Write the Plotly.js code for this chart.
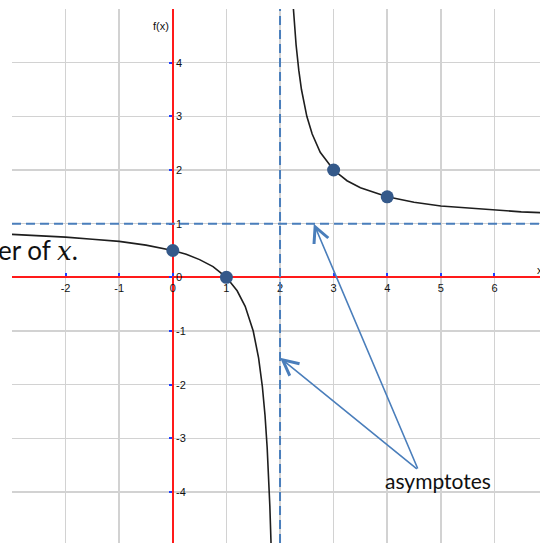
<!DOCTYPE html>
<html>
<head>
<meta charset="utf-8">
<script src="https://cdn.plot.ly/plotly-3.0.1.min.js"></script>
<style>
  html, body { margin: 0; padding: 0; background: #ffffff; }
  #chart { width: 540px; height: 543px; }
</style>
</head>
<body>
<div id="chart"></div>
<script>
// f(x) = (x - 1) / (x - 2): sampled points of the two branches
const leftBranchX = [-3, -2.5, -2, -1.5, -1, -0.5, 0, 0.25, 0.5, 0.75, 1, 1.2, 1.35, 1.5, 1.6, 1.67, 1.72, 1.76, 1.79, 1.81, 1.83, 1.84];
const leftBranchY = [0.8, 0.78, 0.75, 0.71, 0.67, 0.6, 0.5, 0.43, 0.33, 0.2, 0, -0.25, -0.54, -1, -1.5, -2.03, -2.57, -3.17, -3.76, -4.26, -4.88, -5.25];
const rightBranchX = [2.16, 2.2, 2.25, 2.3, 2.35, 2.4, 2.5, 2.6, 2.75, 3, 3.25, 3.5, 4, 4.5, 5, 5.5, 6, 6.5, 7];
const rightBranchY = [7.25, 6, 5, 4.33, 3.86, 3.5, 3, 2.67, 2.33, 2, 1.8, 1.67, 1.5, 1.4, 1.33, 1.29, 1.25, 1.22, 1.2];

// highlighted points on the graph
const pointX = [0, 1, 3, 4];
const pointY = [0.5, 0, 2, 1.5];

// asymptotes
const verticalAsymptote = 2;
const horizontalAsymptote = 1;

// arrow tips (on the asymptotes) and the common tail near the label
const arrowTipX = [2.63, 2.0];
const arrowTipY = [1.0, -1.5];
const arrowTail = [4.58, -3.59];
const arrowLabel = 'asymptotes';
const arrowLabelPos = [4.94, -3.79];

// axes
const xRange = [-3, 6.85];
const yRange = [-4.95, 5];
const xTickVals = [-3, -2, -1, 0, 1, 2, 3, 4, 5, 6];
const xTickText = ['', '-2', '-1', '0', '1', '2', '3', '4', '5', '6'];
const yTickVals = [-4, -3, -2, -1, 0, 1, 2, 3, 4, 5];
const yTickText = ['-4', '-3', '-2', '-1', '0', '1', '2', '3', '4', ''];

const curveColor = '#1e1e1e';
const pointColor = '#34598a';
const blue = '#4a7ebb';
const tickFont = { family: 'Liberation Sans, Arial, sans-serif', size: 11, color: '#111111' };

const traces = [
  {
    x: leftBranchX, y: leftBranchY, type: 'scatter', mode: 'lines',
    line: { color: curveColor, width: 1.6 }, hoverinfo: 'skip'
  },
  {
    x: rightBranchX, y: rightBranchY, type: 'scatter', mode: 'lines',
    line: { color: curveColor, width: 1.6 }, hoverinfo: 'skip'
  },
  {
    x: pointX, y: pointY, type: 'scatter', mode: 'markers',
    marker: { color: pointColor, size: 13 }, cliponaxis: false
  }
];

const xZero = (0 - xRange[0]) / (xRange[1] - xRange[0]);
const yZero = (0 - yRange[0]) / (yRange[1] - yRange[0]);

const axisCommon = {
  showgrid: true, gridcolor: '#d2d2d2', gridwidth: 1.6,
  zeroline: false, showline: true, linecolor: '#ff1a1a', linewidth: 2,
  ticks: 'inside', ticklen: 3, tickwidth: 2, tickcolor: '#2040ff',
  tickfont: tickFont, anchor: 'free', layer: 'below traces', fixedrange: true
};

const arrowCommon = {
  xref: 'x', yref: 'y', axref: 'x', ayref: 'y', text: '',
  showarrow: true, arrowhead: 5, arrowsize: 1.9, arrowwidth: 1.6, arrowcolor: blue,
  ax: arrowTail[0], ay: arrowTail[1]
};

const layout = {
  width: 540, height: 543,
  margin: { l: 12, r: 0, t: 9, b: 0 },
  paper_bgcolor: '#ffffff', plot_bgcolor: '#ffffff',
  showlegend: false,
  xaxis: Object.assign({}, axisCommon, {
    range: xRange, tickmode: 'array', tickvals: xTickVals, ticktext: xTickText,
    position: yZero, side: 'bottom'
  }),
  yaxis: Object.assign({}, axisCommon, {
    range: yRange, tickmode: 'array', tickvals: yTickVals, ticktext: yTickText,
    position: xZero, side: 'right'
  }),
  shapes: [
    {
      type: 'line', layer: 'above', xref: 'x', yref: 'y',
      x0: verticalAsymptote, x1: verticalAsymptote, y0: yRange[0], y1: yRange[1],
      line: { color: blue, width: 2, dash: '9px,5px' }
    },
    {
      type: 'line', layer: 'above', xref: 'x', yref: 'y',
      x0: xRange[0], x1: xRange[1], y0: horizontalAsymptote, y1: horizontalAsymptote,
      line: { color: blue, width: 2, dash: '9px,5px' }
    }
  ],
  annotations: [
    Object.assign({}, arrowCommon, { x: arrowTipX[0], y: arrowTipY[0] }),
    Object.assign({}, arrowCommon, { x: arrowTipX[1], y: arrowTipY[1] }),
    {
      xref: 'x', yref: 'y', x: arrowLabelPos[0], y: arrowLabelPos[1],
      text: arrowLabel, showarrow: false,
      font: { family: 'Lato, Carlito, sans-serif', size: 21, color: '#111111' }
    },
    {
      xref: 'paper', yref: 'paper', x: 0.1288, y: 0.549, xanchor: 'right', yanchor: 'middle',
      text: "er of <span style=\"font-family:'DejaVu Serif'\"><i>x</i></span>.", showarrow: false,
      font: { family: 'Lato, Carlito, sans-serif', size: 26, color: '#111111' }
    },
    {
      xref: 'x', yref: 'paper', x: 0, y: 0.983, xanchor: 'right', xshift: -2,
      text: 'f(x)', showarrow: false, font: tickFont
    },
    {
      xref: 'paper', yref: 'y', x: 1, y: 0.13, xanchor: 'center',
      text: 'x', showarrow: false, font: tickFont
    }
  ]
};

Plotly.newPlot('chart', traces, layout, { staticPlot: true, displayModeBar: false });
</script>
</body>
</html>
